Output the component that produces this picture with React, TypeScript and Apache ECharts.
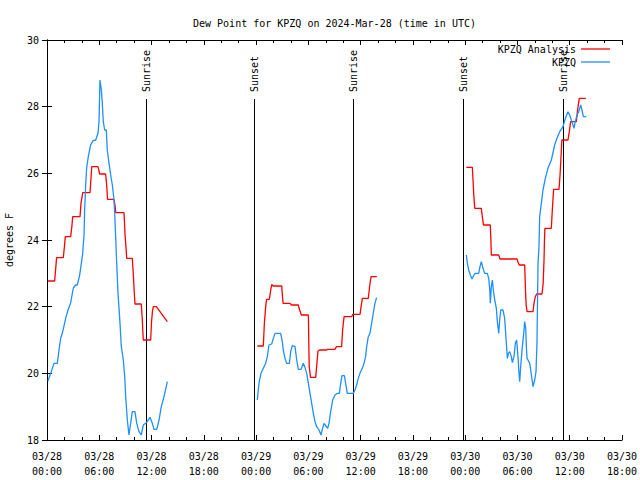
import React, { useEffect, useRef } from "react";
import * as echarts from "echarts";

// hours since 03/28 00:00 UTC
const analysisHours: (number)[] = [
  0.1, 0.88, 1.0, 1.1, 1.87, 2.0, 2.1, 2.72, 2.85, 2.95, 3.79, 3.9, 4.1, 4.94, 5.05, 5.13, 5.85, 5.95, 6.05, 6.73, 6.85, 6.95, 7.69, 7.8, 7.9, 8.84, 8.95, 9.1, 9.15, 9.79, 9.9, 10.0, 10.1, 10.82, 10.92, 11.05, 11.9, 12.0, 12.1, 12.2, 12.55, 13.81,
  18,
  24.14, 24.83, 24.95, 25.1, 25.2, 25.52, 25.65, 25.8, 25.95, 26.94, 27.03, 27.1, 27.9, 28.05, 28.85, 29.0, 29.2, 30.0, 30.07, 30.1, 30.25, 30.84, 30.95, 31.1, 31.3, 32.1, 32.2, 33.06, 33.2, 33.82, 33.93, 34.1, 34.97, 35.1, 35.93, 36.05, 36.2, 36.88, 37.05, 37.2, 37.85,
  42,
  48.13, 48.82, 48.9, 48.95, 49.0, 49.1, 49.85, 49.97, 50.1, 50.88, 50.95, 51.0, 51.84, 52.0, 53.95, 54.05, 54.2, 54.83, 54.92, 55.0, 55.1, 55.78, 55.9, 56.05, 56.2, 56.82, 56.95, 57.05, 57.1, 57.15, 57.89, 58.0, 58.15, 58.77, 58.9, 59.0, 59.1, 59.8, 59.95, 60.1, 60.76, 60.9, 61.1, 61.85,
];
const analysisValues: (number | null)[] = [
  22.77, 22.77, 23.15, 23.47, 23.47, 23.8, 24.1, 24.1, 24.4, 24.7, 24.7, 25.1, 25.42, 25.42, 25.85, 26.2, 26.2, 26.1, 25.98, 25.98, 25.65, 25.22, 25.22, 25.05, 24.82, 24.82, 24.2, 23.65, 23.45, 23.45, 23.0, 22.5, 22.08, 22.08, 21.7, 21.0, 21.0, 21.55, 21.85, 22.0, 22.0, 21.55,
  null,
  20.82, 20.82, 21.5, 22.0, 22.22, 22.22, 22.45, 22.67, 22.62, 22.62, 22.3, 22.1, 22.1, 22.05, 22.05, 21.9, 21.75, 21.75, 20.6, 20.2, 19.88, 19.88, 20.2, 20.67, 20.7, 20.7, 20.72, 20.72, 20.8, 20.8, 21.3, 21.7, 21.7, 21.77, 21.77, 22.0, 22.25, 22.25, 22.65, 22.9, 22.9,
  null,
  26.18, 26.18, 25.8, 25.55, 25.3, 24.95, 24.95, 24.7, 24.45, 24.45, 24.0, 23.55, 23.55, 23.43, 23.43, 23.35, 23.25, 23.25, 22.5, 22.05, 21.85, 21.85, 22.1, 22.3, 22.38, 22.38, 22.7, 23.4, 24.0, 24.35, 24.35, 24.9, 25.52, 25.52, 26.0, 26.5, 27.0, 27.0, 27.25, 27.55, 27.55, 27.9, 28.25, 28.25,
];

const obsHours: number[] = [
  0.11, 0.42, 0.8, 1.18, 1.38, 1.57, 1.76, 2.14, 2.41, 2.72, 3.02, 3.29, 3.48, 3.75, 3.94, 4.1, 4.25, 4.32, 4.44, 4.55, 4.74, 5.01, 5.28, 5.59, 5.85, 5.97, 6.08, 6.24, 6.35, 6.46, 6.62, 6.81, 6.92, 7.12, 7.31, 7.5, 7.69, 7.77, 7.88, 8.0, 8.15, 8.38, 8.53, 8.76, 8.92, 9.03, 9.22, 9.41, 9.6, 9.79, 10.1, 10.3, 10.56, 10.82, 11.05, 11.33, 11.5, 11.82, 12.09, 12.28, 12.6, 12.86, 13.12, 13.43, 13.81,
  18,
  24.14, 24.33, 24.56, 24.83, 25.1, 25.29, 25.48, 25.79, 25.98, 26.17, 26.82, 27.01, 27.12, 27.32, 27.51, 27.82, 27.97, 28.16, 28.47, 28.66, 28.85, 29.16, 29.42, 29.61, 29.81, 30.0, 30.19, 30.38, 30.57, 30.76, 30.96, 31.22, 31.45, 31.6, 31.8, 32.02, 32.22, 32.37, 32.56, 32.79, 33.06, 33.33, 33.56, 33.71, 33.86, 34.13, 34.28, 34.47, 35.16, 35.35, 35.54, 35.73, 35.92, 36.19, 36.38, 36.57, 36.69, 36.88, 37.07, 37.26, 37.45, 37.64, 37.83,
  42,
  48.13, 48.25, 48.4, 48.59, 48.78, 49.01, 49.16, 49.55, 49.7, 49.85, 50.05, 50.24, 50.54, 50.7, 50.81, 50.89, 51.0, 51.12, 51.23, 51.39, 51.58, 51.69, 51.85, 51.96, 52.08, 52.34, 52.53, 52.65, 52.76, 52.84, 52.96, 53.11, 53.3, 53.42, 53.6, 53.76, 53.91, 54.06, 54.18, 54.26, 54.37, 54.56, 54.72, 54.83, 54.95, 55.02, 55.1, 55.21, 55.41, 55.6, 55.79, 55.98, 56.13, 56.24, 56.36, 56.47, 56.55, 56.74, 56.93, 57.2, 57.5, 57.89, 58.27, 58.54, 58.85, 59.23, 59.5, 59.8, 59.99, 60.18, 60.38, 60.49, 60.64, 60.84, 61.03, 61.14, 61.26, 61.41, 61.56, 61.9,
];
const obsValues: (number | null)[] = [
  19.77, 20.0, 20.3, 20.3, 20.7, 21.06, 21.2, 21.65, 21.9, 22.12, 22.56, 22.65, 22.65, 22.95, 23.3, 23.6, 24.15, 24.9, 25.65, 26.16, 26.5, 26.85, 26.98, 27.0, 27.2, 27.55, 28.8, 28.5, 28.1, 27.55, 27.3, 27.3, 26.7, 26.3, 25.95, 25.65, 25.2, 24.8, 24.1, 23.3, 22.4, 21.5, 20.8, 20.4, 19.9, 19.3, 18.6, 18.15, 18.5, 18.85, 18.85, 18.5, 18.25, 18.15, 18.45, 18.5, 18.55, 18.68, 18.5, 18.32, 18.32, 18.6, 19.0, 19.3, 19.75,
  null,
  19.2, 19.7, 20.0, 20.15, 20.3, 20.5, 20.85, 20.88, 21.05, 21.2, 21.2, 20.95, 20.7, 20.45, 20.3, 20.3, 20.65, 20.83, 20.8, 20.4, 20.12, 20.12, 20.3, 20.18, 20.0, 19.7, 19.4, 19.1, 18.8, 18.55, 18.4, 18.3, 18.15, 18.32, 18.5, 18.42, 18.35, 18.5, 18.85, 19.2, 19.35, 19.4, 19.4, 19.7, 19.93, 19.93, 19.7, 19.4, 19.4, 19.5, 19.65, 19.85, 20.0, 20.15, 20.3, 20.5, 20.8, 21.1, 21.2, 21.5, 21.8, 22.1, 22.27,
  null,
  23.55, 23.3, 23.1, 22.95, 22.83, 22.95, 23.0, 23.0, 23.2, 23.35, 23.15, 23.0, 23.0, 22.85, 22.55, 22.1, 22.6, 22.8, 22.5, 22.2, 21.95, 21.55, 21.2, 21.6, 21.9, 21.9, 21.65, 21.2, 20.75, 20.45, 20.6, 20.65, 20.5, 20.32, 20.5, 20.9, 21.0, 20.5, 20.0, 19.75, 20.2, 20.8, 21.2, 21.55, 21.35, 20.8, 20.45, 20.4, 20.3, 19.95, 19.6, 19.8, 20.05, 20.9, 23.3, 23.8, 24.7, 25.1, 25.5, 25.85, 26.15, 26.4, 26.85, 27.05, 27.25, 27.4, 27.65, 27.85, 27.75, 27.6, 27.45, 27.35, 27.55, 27.75, 27.85, 27.95, 28.05, 27.9, 27.7, 27.7,
];

const sunHours: number[] = [11.36, 23.76, 35.16, 47.75, 59.27];
const sunLabels: string[] = ["Sunrise", "Sunset", "Sunrise", "Sunset", "Sunrise"];

const xTickLabels: string[] = [
  "03/28\n00:00", "03/28\n06:00", "03/28\n12:00", "03/28\n18:00",
  "03/29\n00:00", "03/29\n06:00", "03/29\n12:00", "03/29\n18:00",
  "03/30\n00:00", "03/30\n06:00", "03/30\n12:00", "03/30\n18:00",
];

const FONT = '"DejaVu Sans Mono", "Liberation Mono", monospace';

export default function App() {
  const ref = useRef<HTMLDivElement>(null);
  useEffect(() => {
    if (!ref.current) return;
    const chart = echarts.init(ref.current, undefined, { renderer: "svg" });
    const analysisData = analysisHours.map((h, i) => [h, analysisValues[i]]);
    const obsData = obsHours.map((h, i) => [h, obsValues[i]]);
    const sunData = sunHours.map((h) => [h, 18]);
    const tick = { show: true, inside: true, length: 5, lineStyle: { color: "#000" } };
    const minor = { show: true, splitNumber: 3, length: 3, lineStyle: { color: "#000" } };
    const axisLine = { show: true, lineStyle: { color: "#000", width: 1 } };
    chart.setOption({
      animation: false,
      backgroundColor: "#fff",
      title: {
        text: "Dew Point for KPZQ on 2024-Mar-28 (time in UTC)",
        left: 188,
        top: 13,
        textStyle: { fontFamily: FONT, fontSize: 10, fontWeight: "normal", color: "#000" },
      },
      legend: {
        data: ["KPZQ Analysis", "KPZQ"],
        orient: "vertical",
        right: 25,
        top: 38,
        align: "right",
        icon: "rect",
        itemWidth: 29,
        itemHeight: 1.3,
        itemGap: 1,
        textStyle: { fontFamily: FONT, fontSize: 10, color: "#000", lineHeight: 12 },
      },
      grid: { left: 47, right: 18, top: 40, bottom: 40, containLabel: false, outerBoundsMode: "none" },
      xAxis: [
        {
          type: "value",
          min: 0,
          max: 66,
          interval: 6,
          axisLine,
          axisTick: tick,
          minorTick: minor,
          splitLine: { show: false },
          axisLabel: {
            formatter: (v: number) => xTickLabels[Math.round(v / 6)] ?? "",
            fontFamily: FONT,
            fontSize: 10,
            lineHeight: 15,
            color: "#000",
            margin: 9,
          },
        },
        {
          type: "value",
          position: "top",
          min: 0,
          max: 66,
          interval: 6,
          axisLine,
          axisTick: tick,
          minorTick: minor,
          splitLine: { show: false },
          axisLabel: { show: false },
        },
      ],
      yAxis: [
        {
          type: "value",
          min: 18,
          max: 30,
          interval: 2,
          axisLine,
          axisTick: tick,
          splitLine: { show: false },
          name: "degrees F",
          nameLocation: "middle",
          nameGap: 33,
          nameTextStyle: { fontFamily: FONT, fontSize: 10, color: "#000" },
          axisLabel: { fontFamily: FONT, fontSize: 10, color: "#000", margin: 8 },
        },
        {
          type: "value",
          position: "right",
          min: 18,
          max: 30,
          interval: 2,
          axisLine,
          axisTick: tick,
          splitLine: { show: false },
          axisLabel: { show: false },
        },
      ],
      series: [
        {
          type: "custom",
          name: "sun",
          silent: true,
          clip: false,
          data: sunData,
          renderItem: (params: any, api: any) => {
            const bottom = api.coord([api.value(0), 18]);
            const top = api.coord([api.value(0), 30]);
            const x = Math.round(bottom[0]) + 0.5;
            return {
              type: "group",
              children: [
                {
                  type: "line",
                  shape: { x1: x, y1: top[1] + 59, x2: x, y2: bottom[1] },
                  style: { stroke: "#000", lineWidth: 1 },
                },
                {
                  type: "text",
                  x: x,
                  y: top[1] + 52,
                  rotation: Math.PI / 2,
                  style: {
                    text: sunLabels[params.dataIndex],
                    fill: "#000",
                    font: `10px ${FONT}`,
                    align: "left",
                    verticalAlign: "middle",
                  },
                },
              ],
            };
          },
        },
        {
          type: "line",
          name: "KPZQ Analysis",
          data: analysisData,
          symbol: "none",
          connectNulls: false,
          lineStyle: { color: "#ff0000", width: 1.3 },
          itemStyle: { color: "#ff0000" },
        },
        {
          type: "line",
          name: "KPZQ",
          data: obsData,
          symbol: "none",
          connectNulls: false,
          lineStyle: { color: "#1e90ff", width: 1.3 },
          itemStyle: { color: "#1e90ff" },
        },
      ],
    });
    return () => chart.dispose();
  }, []);
  return (
    <div
      ref={ref}
      style={{ position: "fixed", left: 0, top: 0, width: 640, height: 480, background: "#fff" }}
    />
  );
}
